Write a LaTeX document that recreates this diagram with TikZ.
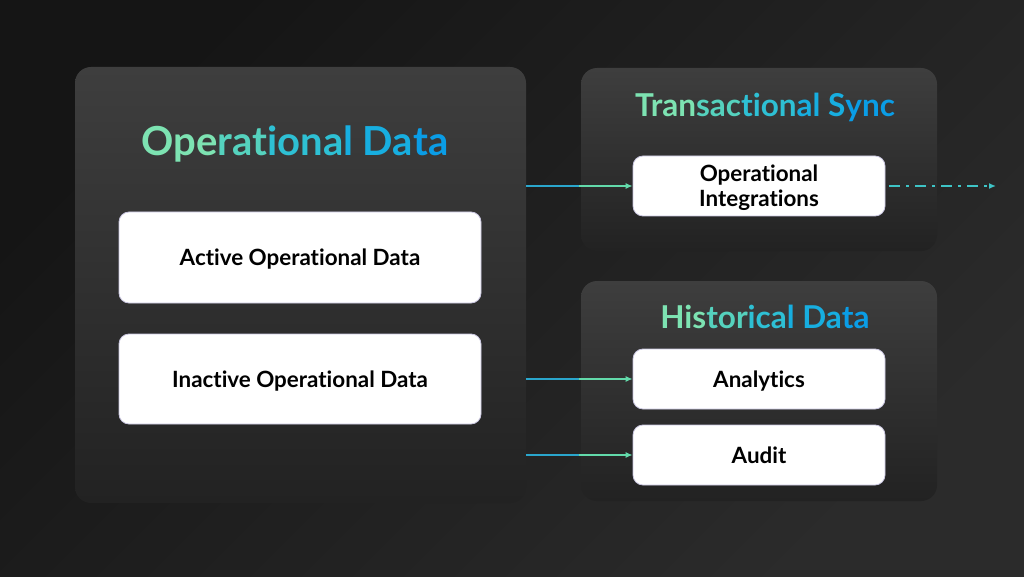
\documentclass[tikz,border=0pt]{standalone}
\usepackage{fontspec}
\setmainfont{Lato}[Ligatures=NoCommon]
\usetikzlibrary{positioning,arrows.meta,calc}

% Colours of the page
\definecolor{bgtop}{HTML}{151515}
\definecolor{bgbot}{HTML}{2B2B2B}
\definecolor{paneltop}{HTML}{3E3E3E}
\definecolor{panelbot}{HTML}{222222}
\definecolor{cardline}{HTML}{C9C6E0}
% Colours of the title gradient
\definecolor{tA}{HTML}{7DE3B2}
\definecolor{tB}{HTML}{55D2BE}
\definecolor{tC}{HTML}{2EC0D4}
\definecolor{tD}{HTML}{17AEE0}
\definecolor{tE}{HTML}{0A9DE6}
% Colours of the arrows
\definecolor{arrA}{HTML}{2AA6CC}
\definecolor{arrB}{HTML}{62DAAA}
\definecolor{arrC}{HTML}{3EC4C6}

\begin{document}
\begin{tikzpicture}[x=1pt,y=-1pt,
    panel/.style 2 args={rounded corners=16pt, top color=paneltop, bottom color=panelbot,
      draw=none, minimum width=#1, minimum height=#2, inner sep=0pt},
    card/.style 2 args={fill=white, draw=cardline, line width=0.8pt, rounded corners=10pt,
      minimum width=#1, minimum height=#2, inner sep=0pt, text depth=0pt, align=center, text=black,
      font=\bfseries\fontsize{22.4}{25}\selectfont},
    bigtitle/.style={anchor=base, font=\bfseries\fontsize{40}{46}\selectfont},
    subtitle/.style={anchor=base, font=\bfseries\fontsize{31.5}{36}\selectfont},
    flowa/.style={draw=arrA, line width=1.3pt},
    flowb/.style={draw=arrB, line width=1.3pt, -{Latex[length=7pt,width=6pt]}},
    flowout/.style={draw=arrC, line width=1.8pt, dash pattern=on 11pt off 6pt on 3pt off 6pt,
      -{Latex[length=7pt,width=6pt]}}]

  % Background
  \shade[top color=bgtop, bottom color=bgbot, shading angle=45] (0,0) rectangle (1024,577);
  \useasboundingbox (0,0) rectangle (1024,577);

  % Panels
  \node[panel={451pt}{436pt}] (opdata) at (300.5,285) {};
  \node[panel={356pt}{183pt}] (txsync) at (759,159.5) {};
  \node[panel={356pt}{220pt}] (hist) at (759,391) {};

  % Panel titles
  \node[bigtitle] (opdatatitle) at (295,156)
    {\textcolor{tA}{Ope}\textcolor{tB}{rat}\textcolor{tC}{iona}\textcolor{tD}{l Da}\textcolor{tE}{ta}};
  \node[subtitle] (txsynctitle) at (765,117)
    {\textcolor{tA}{Tran}\textcolor{tB}{sac}\textcolor{tC}{tion}\textcolor{tD}{al S}\textcolor{tE}{ync}};
  \node[subtitle] (histtitle) at (765,328)
    {\textcolor{tA}{His}\textcolor{tB}{tor}\textcolor{tC}{ica}\textcolor{tD}{l Da}\textcolor{tE}{ta}};

  % Cards
  \node[card={362pt}{91pt}] (active) at (300,257.5) {Active Operational Data};
  \node[card={362pt}{90pt}] (inactive) at (300,379) {Inactive Operational Data};
  \node[card={252pt}{60pt}] (integ) at (759,186) {Operational\\Integrations};
  \node[card={252pt}{60pt}] (analytics) at (759,379) {Analytics};
  \node[card={252pt}{60pt}] (audit) at (759,455) {Audit};

  % Flows from the operational panel
  \coordinate (outend) at (996,186);
  \foreach \dst in {integ,analytics,audit} {
    \coordinate (src) at (opdata.east |- \dst.west);
    \draw[flowa] (src) -- ($(src)!0.5!(\dst.west)$);
    \draw[flowb] ($(src)!0.5!(\dst.west)$) -- (\dst.west);
  }

  % Flow out of the integrations
  \draw[flowout] ([xshift=4pt]integ.east) -- (outend);
\end{tikzpicture}
\end{document}
